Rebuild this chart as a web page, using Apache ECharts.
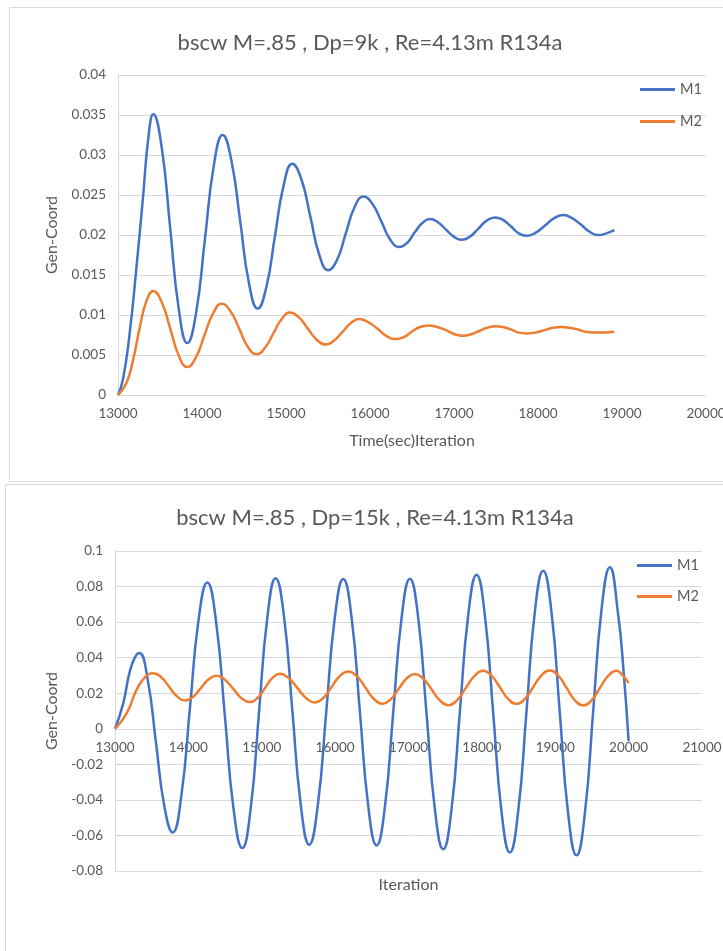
<!DOCTYPE html>
<html>
<head>
<meta charset="utf-8">
<script src="https://cdn.jsdelivr.net/npm/echarts@6/dist/echarts.min.js"></script>
<style>
html,body{margin:0;padding:0;background:#fff;}
#chart{width:723px;height:951px;}
</style>
</head>
<body>
<div id="chart"></div>
<script>
// ---------- DATA ----------
var titles = ['bscw M=.85 , Dp=9k , Re=4.13m R134a', 'bscw M=.85 , Dp=15k , Re=4.13m R134a'];
var seriesNames = ['M1', 'M2'];
var xNames = ['Time(sec)Iteration', 'Iteration'];
var yName = 'Gen-Coord';

// top chart (Dp=9k): [iteration, gen-coord]
var topM1 = [[13000,0],[13060,0.002],[13140,0.0078],[13220,0.016],[13300,0.025],[13360,0.032],[13420,0.0351],
  [13521,0.0309],[13622,0.0208],[13724,0.0107],[13825,0.0065],
  [13930,0.0103],[14035,0.0195],[14141,0.0287],[14246,0.0325],
  [14350,0.0293],[14455,0.0217],[14559,0.0140],[14663,0.0108],
  [14766,0.0135],[14869,0.0199],[14972,0.0262],[15075,0.0289],
  [15182,0.0270],[15290,0.0223],[15397,0.0175],[15504,0.0156],
  [15608,0.0169],[15712,0.0202],[15817,0.0235],[15921,0.0248],
  [16028,0.0239],[16135,0.0217],[16242,0.0194],[16349,0.0185],
  [16440,0.0190],[16531,0.0203],[16623,0.0215],[16714,0.0220],
  [16808,0.0216],[16902,0.0207],[16997,0.0198],[17091,0.0194],
  [17190,0.0198],[17290,0.0208],[17389,0.0218],[17488,0.0222],
  [17582,0.0219],[17676,0.0211],[17771,0.0202],[17865,0.0199],
  [17974,0.0203],[18084,0.0212],[18193,0.0221],[18302,0.0225],
  [18406,0.0221],[18510,0.0213],[18614,0.0204],[18718,0.0200],
  [18814,0.0202],[18910,0.0206]];
var topM2 = [[13000,0],[13100,0.0015],[13180,0.0044],[13260,0.0085],[13340,0.0118],[13420,0.0130],
  [13521,0.0116],[13622,0.0083],[13724,0.0049],[13825,0.0035],
  [13927,0.0047],[14030,0.0075],[14132,0.0102],[14234,0.0114],
  [14338,0.0105],[14443,0.0083],[14547,0.0060],[14651,0.0051],
  [14750,0.0059],[14850,0.0077],[14949,0.0095],[15048,0.0103],
  [15154,0.0097],[15260,0.0083],[15366,0.0069],[15472,0.0063],
  [15572,0.0068],[15673,0.0079],[15773,0.0090],[15873,0.0095],
  [15979,0.0091],[16086,0.0083],[16192,0.0074],[16298,0.0070],
  [16397,0.0072],[16496,0.0079],[16595,0.0085],[16694,0.0087],
  [16798,0.0085],[16903,0.0081],[17007,0.0076],[17111,0.0074],
  [17205,0.0076],[17300,0.0080],[17394,0.0084],[17488,0.0086],
  [17582,0.0085],[17677,0.0082],[17771,0.0078],[17865,0.0077],
  [17969,0.0078],[18074,0.0081],[18178,0.0084],[18282,0.0085],
  [18376,0.0084],[18471,0.0082],[18565,0.0079],[18659,0.0078],
  [18785,0.0078],[18910,0.0079]];

// bottom chart (Dp=15k): [iteration, gen-coord]
var botM1 = [[13000,0],[13110,0.014],[13200,0.032],[13270,0.040],[13331,0.0426],
  [13445,0.0278],[13559,-0.0079],[13672,-0.0435],[13786,-0.0583],
  [13904,-0.0377],[14022,0.0120],[14140,0.0617],[14258,0.0823],
  [14377,0.0604],[14497,0.0076],[14616,-0.0452],[14735,-0.0671],
  [14849,-0.0449],[14962,0.0088],[15076,0.0625],[15189,0.0847],
  [15304,0.0628],[15418,0.0098],[15533,-0.0433],[15647,-0.0652],
  [15763,-0.0433],[15879,0.0095],[15995,0.0623],[16111,0.0842],
  [16225,0.0623],[16338,0.0093],[16452,-0.0437],[16565,-0.0656],
  [16679,-0.0436],[16792,0.0094],[16906,0.0624],[17019,0.0844],
  [17133,0.0621],[17246,0.0084],[17360,-0.0454],[17473,-0.0677],
  [17587,-0.0451],[17700,0.0095],[17814,0.0640],[17928,0.0866],
  [18041,0.0637],[18155,0.0085],[18268,-0.0467],[18381,-0.0696],
  [18495,-0.0464],[18608,0.0097],[18722,0.0657],[18835,0.0889],
  [18949,0.0655],[19062,0.0089],[19176,-0.0478],[19290,-0.0712],
  [19404,-0.0475],[19517,0.0099],[19631,0.0672],[19744,0.0909],
  [19858,0.0640],[19930,0.0330],[20000,-0.007]];
var botM2 = [[13000,0],[13160,0.0088],[13295,0.022],[13410,0.0290],[13522,0.0313],
  [13630,0.0290],[13738,0.0236],[13846,0.0182],[13954,0.0159],
  [14062,0.0179],[14170,0.0229],[14277,0.0278],[14385,0.0298],
  [14498,0.0276],[14612,0.0224],[14725,0.0172],[14839,0.0150],
  [14941,0.0173],[15044,0.0230],[15146,0.0286],[15248,0.0309],
  [15367,0.0285],[15487,0.0229],[15606,0.0172],[15725,0.0148],
  [15838,0.0173],[15952,0.0235],[16065,0.0297],[16179,0.0322],
  [16296,0.0296],[16413,0.0232],[16530,0.0167],[16647,0.0141],
  [16757,0.0165],[16867,0.0225],[16977,0.0284],[17087,0.0308],
  [17201,0.0282],[17316,0.0221],[17430,0.0159],[17545,0.0133],
  [17663,0.0161],[17782,0.0230],[17900,0.0298],[18018,0.0326],
  [18131,0.0299],[18245,0.0234],[18358,0.0168],[18472,0.0141],
  [18586,0.0168],[18700,0.0235],[18813,0.0301],[18927,0.0328],
  [19041,0.0299],[19154,0.0230],[19268,0.0160],[19381,0.0131],
  [19495,0.0160],[19608,0.0229],[19722,0.0297],[19835,0.0326],
  [19920,0.0300],[20000,0.0257]];

// ---------- CHART ----------
var FONT = 'Lato';
var TXT = '#595959';
var GRID = '#d9d9d9';
var C1 = '#4472C4', C2 = '#ED7D31';

var chart = echarts.init(document.getElementById('chart'), null, {renderer: 'canvas'});

function plain(v) { return String(v); }

function xAxisCfg(idx, min, max, nameGap, labelMargin) {
  return {
    type: 'value', gridIndex: idx, min: min, max: max, interval: 1000,
    name: xNames[idx], nameLocation: 'middle', nameGap: nameGap,
    nameTextStyle: {color: TXT, fontFamily: FONT, fontSize: 16},
    axisLine: {show: true, onZero: false, lineStyle: {color: GRID, width: 1}},
    axisTick: {show: false},
    axisLabel: {color: TXT, fontFamily: FONT, fontSize: 13.5, margin: labelMargin, showMaxLabel: true, showMinLabel: true, formatter: plain},
    splitLine: {show: false}
  };
}
function yAxisCfg(idx, min, max, interval, nameGap) {
  return {
    type: 'value', gridIndex: idx, min: min, max: max, interval: interval,
    name: yName, nameLocation: 'middle', nameGap: nameGap, nameRotate: 90,
    nameTextStyle: {color: TXT, fontFamily: FONT, fontSize: 16},
    axisLine: {show: true, onZero: false, lineStyle: {color: GRID, width: 1}},
    axisTick: {show: false},
    axisLabel: {color: TXT, fontFamily: FONT, fontSize: 13.5, margin: 12, formatter: plain},
    splitLine: {show: true, lineStyle: {color: GRID, width: 1}}
  };
}
function lineSeries(name, data, color, idx) {
  return {
    type: 'line', name: name, data: data, xAxisIndex: idx, yAxisIndex: idx,
    showSymbol: false, symbol: 'none', smooth: 0.5,
    lineStyle: {color: color, width: 2.5}, itemStyle: {color: color},
    animation: false
  };
}
function legendCfg(left, top, gap) {
  return {
    orient: 'vertical', left: left, top: top, itemGap: gap,
    icon: 'rect', itemWidth: 35, itemHeight: 3,
    textStyle: {color: TXT, fontFamily: FONT, fontSize: 14.5},
    data: [{name: seriesNames[0]}, {name: seriesNames[1]}]
  };
}

var option = {
  backgroundColor: '#fff',
  animation: false,
  graphic: [
    {type: 'rect', shape: {x: 9.5, y: 7.5, width: 800, height: 474}, style: {fill: 'none', stroke: GRID, lineWidth: 1}, silent: true},
    {type: 'rect', shape: {x: 5.5, y: 484.5, width: 800, height: 500}, style: {fill: 'none', stroke: GRID, lineWidth: 1}, silent: true}
  ],
  title: [
    {text: titles[0], left: 365, top: 27, textAlign: 'center', textStyle: {color: TXT, fontFamily: FONT, fontSize: 22, fontWeight: 'normal'}},
    {text: titles[1], left: 370, top: 502, textAlign: 'center', textStyle: {color: TXT, fontFamily: FONT, fontSize: 22, fontWeight: 'normal'}}
  ],
  legend: [legendCfg(635, 77, 17), legendCfg(632, 553, 16)],
  grid: [
    {left: 118, top: 75, width: 588, height: 320, containLabel: false, outerBoundsMode: 'none'},
    {left: 115, top: 551, width: 587, height: 320, containLabel: false, outerBoundsMode: 'none'}
  ],
  // bottom chart: tick labels sit on the zero line (like the reference), axis name below the plot
  xAxis: [xAxisCfg(0, 13000, 20000, 38, 12), xAxisCfg(1, 13000, 21000, 6, -130)],
  yAxis: [yAxisCfg(0, 0, 0.04, 0.005, 58), yAxisCfg(1, -0.08, 0.1, 0.02, 55)],
  series: [
    lineSeries(seriesNames[0], topM1, C1, 0),
    lineSeries(seriesNames[1], topM2, C2, 0),
    lineSeries(seriesNames[0], botM1, C1, 1),
    lineSeries(seriesNames[1], botM2, C2, 1)
  ]
};
chart.setOption(option);
</script>
</body>
</html>
